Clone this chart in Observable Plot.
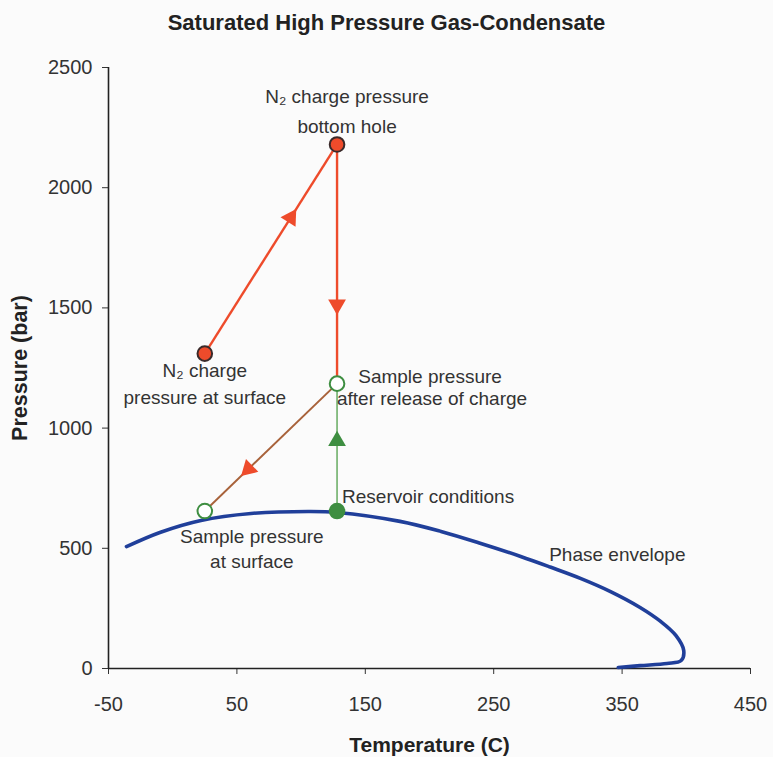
<!DOCTYPE html>
<html>
<head>
<meta charset="utf-8">
<script src="https://cdn.jsdelivr.net/npm/d3@7"></script>
<script src="https://cdn.jsdelivr.net/npm/@observablehq/plot@0.6"></script>
<style>
  html, body { margin: 0; padding: 0; background: #ffffff; }
  #chart { width: 773px; height: 757px; }
</style>
</head>
<body>
<div id="chart"></div>
<script>
// ---------- DATA ----------
const titleText = "Saturated High Pressure Gas-Condensate";
const xLabel = "Temperature (C)";
const yLabel = "Pressure (bar)";
const xTicks = [-50, 50, 150, 250, 350, 450];
const yTicks = [0, 500, 1000, 1500, 2000, 2500];

// Phase envelope (temperature °C, pressure bar)
const envT = [-36, -10, 22, 61, 107, 128, 177, 209, 240, 271, 294, 318, 341, 364, 380, 392, 398, 396, 385, 364, 347];
const envP = [507, 566, 616, 645, 653, 649, 612, 570, 520, 466, 422, 374, 320, 254, 196, 137, 75, 33, 21, 12, 4];

// Key states
const pointNames = ["surfaceN2", "bottomN2", "afterRelease", "sampleSurface", "reservoir"];
const pointT = [25, 128, 128, 25, 128];
const pointP = [1310, 2180, 1185, 655, 655];

// Process paths: from -> to, arrowhead fraction along the path
const segFrom = ["surfaceN2", "bottomN2", "afterRelease", "reservoir"];
const segTo   = ["bottomN2", "afterRelease", "sampleSurface", "afterRelease"];
const segArrowAt = [0.65, 0.67, 0.67, 0.55];

// Annotation lines attached to states
const labelPoint = ["bottomN2", "bottomN2", "surfaceN2", "surfaceN2", "afterRelease", "afterRelease", "reservoir", "sampleSurface", "sampleSurface"];
const labelText = ["N₂ charge pressure", "bottom hole", "N₂ charge", "pressure at surface", "Sample pressure", "after release of charge", "Reservoir conditions", "Sample pressure", "at surface"];

const envLabel = "Phase envelope";
const envLabelIndex = 10;

// ---------- STYLE ----------
const W = 773, H = 757;
const M = {top: 67, right: 23, bottom: 89, left: 108};
const FONT = "'Liberation Sans', Arial, Helvetica, sans-serif";
const TXT = "#333333";
const RED = "#ee4b2b";
const BROWN = "#a8623a";
const GREEN = "#3e8e41";
const GREEN_LINE = "#6fb06a";
const BLUE = "#203f9a";

const segColor = [RED, RED, BROWN, GREEN_LINE];
const segWidth = [2.4, 2.4, 2, 1.6];
const arrowColor = [RED, RED, RED, GREEN];

const pointFill = { surfaceN2: RED, bottomN2: RED, afterRelease: "white", sampleSurface: "white", reservoir: GREEN };
const pointStroke = { surfaceN2: "#3a2a2a", bottomN2: "#3a2a2a", afterRelease: GREEN, sampleSurface: GREEN, reservoir: GREEN };
const labelOffsets = {
  0: [10, -48], 1: [10, -18], 2: [0, 17], 3: [0, 44],
  4: [93, -7], 5: [95, 15], 6: [5, -14], 7: [47, 26], 8: [47, 51]
};
const labelAnchors = {6: "start"};

// ---------- BUILD ----------
const xDomain = [d3.min(xTicks), d3.max(xTicks)];
const yDomain = [d3.min(yTicks), d3.max(yTicks)];
const sx = d3.scaleLinear(xDomain, [M.left, W - M.right]);
const sy = d3.scaleLinear(yDomain, [H - M.bottom, M.top]);

const envelope = envT.map((t, i) => ({T: t, P: envP[i]}));
const pts = pointNames.map((n, i) => ({name: n, T: pointT[i], P: pointP[i], fill: pointFill[n], stroke: pointStroke[n]}));
const byName = Object.fromEntries(pts.map(p => [p.name, p]));

const segs = segFrom.map((f, i) => {
  const a = byName[f], b = byName[segTo[i]];
  return {x1: a.T, y1: a.P, x2: b.T, y2: b.P, color: segColor[i], w: segWidth[i]};
});
const arrows = segFrom.map((f, i) => {
  const a = byName[f], b = byName[segTo[i]], t = segArrowAt[i];
  const dxs = sx(b.T) - sx(a.T), dys = sy(b.P) - sy(a.P);
  return {
    T: a.T + (b.T - a.T) * t,
    P: a.P + (b.P - a.P) * t,
    rot: Math.atan2(dxs, -dys) * 180 / Math.PI,
    color: arrowColor[i]
  };
});
const labels = labelPoint.map((n, i) => ({
  T: byName[n].T, P: byName[n].P, text: labelText[i],
  dx: labelOffsets[i][0], dy: labelOffsets[i][1], anchor: labelAnchors[i] || "middle"
}));

const marks = [
  // axes lines
  Plot.ruleX([xDomain[0]], {y1: yDomain[0], y2: yDomain[1], stroke: "#222", strokeWidth: 1.6}),
  Plot.ruleY([yDomain[0]], {x1: xDomain[0], x2: xDomain[1], stroke: "#222", strokeWidth: 1.6}),
  // process paths
  ...segs.map(s => Plot.link([s], {x1: "x1", y1: "y1", x2: "x2", y2: "y2", stroke: s.color, strokeWidth: s.w})),
  // phase envelope
  Plot.line(envelope, {x: "T", y: "P", curve: "catmull-rom", stroke: BLUE, strokeWidth: 3.6, strokeLinecap: "round"}),
  // arrowheads
  ...arrows.map(a => Plot.dot([a], {x: "T", y: "P", symbol: "triangle", r: 6.6, fill: a.color, stroke: "none", rotate: a.rot})),
  // state points
  Plot.dot(pts, {x: "T", y: "P", r: 7.3, fill: d => d.fill, stroke: d => d.stroke, strokeWidth: 2}),
  // annotations
  ...labels.map(l => Plot.text([l], {x: "T", y: "P", text: "text", dx: l.dx, dy: l.dy, textAnchor: l.anchor, fontSize: 19, fill: TXT})),
  Plot.text([envelope[envLabelIndex]], {x: "T", y: "P", text: () => envLabel, dx: -1, dy: -12, textAnchor: "start", fontSize: 19, fill: TXT}),
  // axis titles and chart title
  Plot.text([yLabel], {frameAnchor: "left", text: d => d, rotate: -90, dx: -88, textAnchor: "middle", lineAnchor: "middle", fontSize: 21.5, fontWeight: "bold", fill: "#222"}),
  Plot.text([xLabel], {frameAnchor: "bottom", text: d => d, dy: 77, textAnchor: "middle", lineAnchor: "middle", fontSize: 21, fontWeight: "bold", fill: "#222"}),
  Plot.text([titleText], {frameAnchor: "top", text: d => d, dx: -43, dy: -45, textAnchor: "middle", lineAnchor: "middle", fontSize: 22, fontWeight: "bold", fill: "#222"})
];

const chart = Plot.plot({
  width: W,
  height: H,
  marginTop: M.top,
  marginRight: M.right,
  marginBottom: M.bottom,
  marginLeft: M.left,
  style: {fontFamily: FONT, fontSize: "20px", color: "#333", background: "#fbfbfb", overflow: "visible"},
  x: {domain: xDomain, ticks: xTicks, tickSize: 6, tickPadding: 22, label: null, tickFormat: d => String(d)},
  y: {domain: yDomain, ticks: yTicks, tickSize: 6, tickPadding: 10, label: null, tickFormat: d => String(d)},
  marks
});
document.getElementById("chart").appendChild(chart);
</script>
</body>
</html>
